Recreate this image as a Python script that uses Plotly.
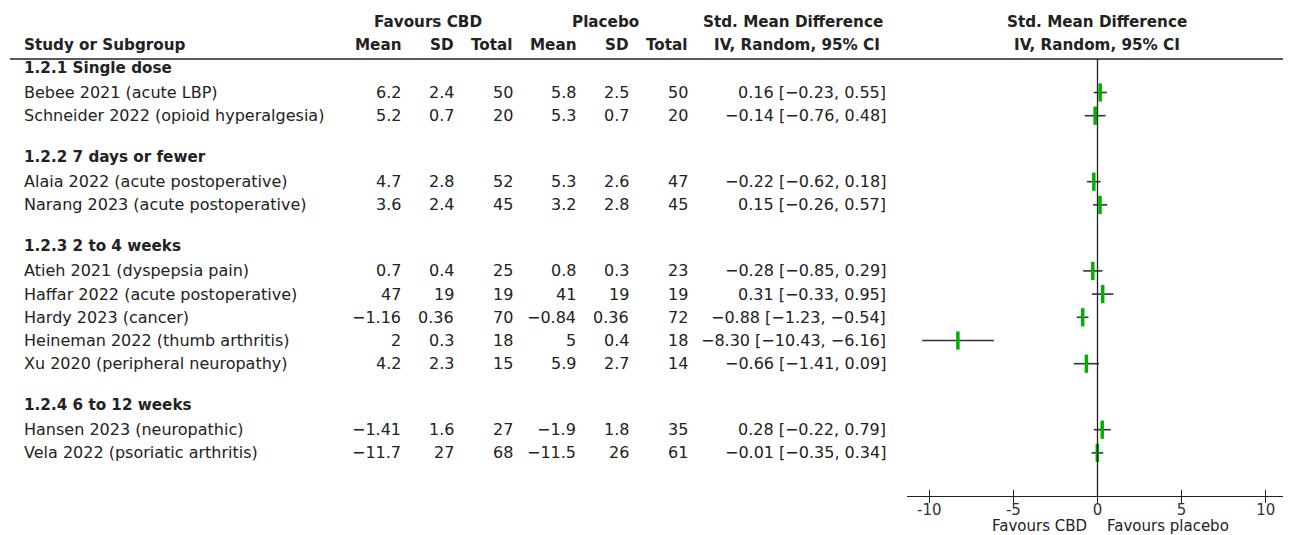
import plotly.graph_objects as go

# ---------------- data ----------------
groups = ["1.2.1 Single dose", "1.2.2 7 days or fewer", "1.2.3 2 to 4 weeks", "1.2.4 6 to 12 weeks"]
study_group = [0, 0, 1, 1, 2, 2, 2, 2, 2, 3, 3]
studies = [
    "Bebee 2021 (acute LBP)",
    "Schneider 2022 (opioid hyperalgesia)",
    "Alaia 2022 (acute postoperative)",
    "Narang 2023 (acute postoperative)",
    "Atieh 2021 (dyspepsia pain)",
    "Haffar 2022 (acute postoperative)",
    "Hardy 2023 (cancer)",
    "Heineman 2022 (thumb arthritis)",
    "Xu 2020 (peripheral neuropathy)",
    "Hansen 2023 (neuropathic)",
    "Vela 2022 (psoriatic arthritis)",
]
cbd_mean = [6.2, 5.2, 4.7, 3.6, 0.7, 47, -1.16, 2, 4.2, -1.41, -11.7]
cbd_sd = [2.4, 0.7, 2.8, 2.4, 0.4, 19, 0.36, 0.3, 2.3, 1.6, 27]
cbd_n = [50, 20, 52, 45, 25, 19, 70, 18, 15, 27, 68]
pla_mean = [5.8, 5.3, 5.3, 3.2, 0.8, 41, -0.84, 5, 5.9, -1.9, -11.5]
pla_sd = [2.5, 0.7, 2.6, 2.8, 0.3, 19, 0.36, 0.4, 2.7, 1.8, 26]
pla_n = [50, 20, 47, 45, 23, 19, 72, 18, 14, 35, 61]
smd = [0.16, -0.14, -0.22, 0.15, -0.28, 0.31, -0.88, -8.30, -0.66, 0.28, -0.01]
ci_lo = [-0.23, -0.76, -0.62, -0.26, -0.85, -0.33, -1.23, -10.43, -1.41, -0.22, -0.35]
ci_hi = [0.55, 0.48, 0.18, 0.57, 0.29, 0.95, -0.54, -6.16, 0.09, 0.79, 0.34]
tick_vals = [-10, -5, 0, 5, 10]
tick_text = ["-10", "-5", "0", "5", "10"]

# ---------------- layout helpers ----------------
PAGE_W, PAGE_H = 1291, 535
OFF = 8  # default page body margin
W, H = PAGE_W - OFF, PAGE_H - OFF
FONT = "DejaVu Sans"
TXT = "#222222"
FS = 16
FSB = 15.2


def fmt(v):
    return f"{v:g}".replace("-", "\u2212")


def fmt2(v):
    return f"{v:.2f}".replace("-", "\u2212")


# row positions (page-pixel-like y units, top = 0)
first_heading = 68.0
head_to_row = 24.5
row_step = 23.2
group_gap = 41.5
heading_y = []
row_y = []
cur = first_heading
for g in range(len(groups)):
    heading_y.append(cur)
    idx = [i for i, sg in enumerate(study_group) if sg == g]
    y = cur + head_to_row
    for k, i in enumerate(idx):
        row_y.append(y + k * row_step)
    cur = row_y[-1] + group_gap

header_line_y = 59
axis_y = 496

fig = go.Figure()

xs, ys = [], []
for lo, hi, y in zip(ci_lo, ci_hi, row_y):
    xs += [lo, hi, None]
    ys += [y, y, None]
fig.add_trace(go.Scatter(x=xs, y=ys, mode="lines", line=dict(color="#333333", width=1.6),
                         hoverinfo="skip", showlegend=False))
fig.add_trace(go.Scatter(x=smd, y=row_y, mode="markers",
                         marker=dict(symbol="line-ns", size=13,
                                     line=dict(color="#00b000", width=3.5)),
                         showlegend=False))
fig.add_trace(go.Scatter(x=[0], y=[row_y[0]], xaxis="x2", mode="markers",
                         marker=dict(opacity=0), hoverinfo="skip", showlegend=False))

ann = []


def px(x):
    return (x - OFF) / W


def add_text(x, y, text, anchor="left", bold=False, color=TXT, size=None):
    if size is None:
        size = FSB if bold else FS
    ann.append(dict(xref="paper", yref="y", x=px(x), y=y, text=f"<b>{text}</b>" if bold else text,
                    xanchor=anchor, yanchor="middle", showarrow=False,
                    font=dict(family=FONT, size=size, color=color)))


col_x = dict(cm=403, cs=456, cn=515, pm=578, ps=631, pn=690, smd=888)

hy1, hy2 = 22, 45
add_text(428, hy1, "Favours CBD", "center", True)
add_text(605, hy1, "Placebo", "center", True)
add_text(793, hy1, "Std. Mean Difference", "center", True)
add_text(1097, hy1, "Std. Mean Difference", "center", True)
add_text(22, hy2, "Study or Subgroup", "left", True)
for key, lab in [("cm", "Mean"), ("cs", "SD"), ("cn", "Total"), ("pm", "Mean"), ("ps", "SD"), ("pn", "Total")]:
    add_text(col_x[key], hy2, lab, "right", True)
add_text(797, hy2, "IV, Random, 95% CI", "center", True)
add_text(1097, hy2, "IV, Random, 95% CI", "center", True)

for g, gy in zip(groups, heading_y):
    add_text(22, gy, g, "left", True)

for i, y in enumerate(row_y):
    add_text(22, y, studies[i])
    add_text(col_x["cm"], y, fmt(cbd_mean[i]), "right")
    add_text(col_x["cs"], y, fmt(cbd_sd[i]), "right")
    add_text(col_x["cn"], y, str(cbd_n[i]), "right")
    add_text(col_x["pm"], y, fmt(pla_mean[i]), "right")
    add_text(col_x["ps"], y, fmt(pla_sd[i]), "right")
    add_text(col_x["pn"], y, str(pla_n[i]), "right")
    add_text(col_x["smd"], y, f"{fmt2(smd[i])} [{fmt2(ci_lo[i])}, {fmt2(ci_hi[i])}]", "right")

add_text(1089, 526, "Favours CBD", "right", size=15)
add_text(1105, 526, "Favours placebo", "left", size=15)

x_left_px = 907
px_per_unit = 16.82
x_min = -10 - (929.3 - x_left_px) / px_per_unit
x_max = x_min + (PAGE_W - x_left_px) / px_per_unit
axis_pos = (PAGE_H - axis_y) / H

shapes = [
    dict(type="line", xref="paper", yref="y", x0=px(10), x1=1, y0=header_line_y, y1=header_line_y,
         line=dict(color="#222222", width=1.6)),
    dict(type="line", xref="x", yref="y", x0=0, x1=0, y0=header_line_y, y1=axis_y,
         line=dict(color="#222222", width=1.3)),
]

fig.update_layout(
    width=W, height=H,
    margin=dict(l=0, r=0, t=0, b=0),
    paper_bgcolor="white", plot_bgcolor="white",
    annotations=ann, shapes=shapes,
    xaxis=dict(domain=[px(x_left_px), 1], range=[x_min, x_max], anchor="free", position=axis_pos,
               showline=True, linecolor="#222222", linewidth=1.3,
               ticks="inside", ticklen=6, tickwidth=1.3, tickcolor="#222222",
               tickvals=tick_vals, ticktext=tick_text,
               tickfont=dict(family=FONT, size=15, color="#333333"),
               showgrid=False, zeroline=False, fixedrange=True),
    xaxis2=dict(overlaying="x", range=[x_min, x_max], anchor="free", position=axis_pos,
                ticks="outside", ticklen=6, tickwidth=1.3, tickcolor="#222222",
                tickvals=tick_vals, showticklabels=False, showline=False,
                showgrid=False, zeroline=False, side="bottom"),
    yaxis=dict(domain=[0, 1], range=[PAGE_H, OFF], visible=False, fixedrange=True),
    font=dict(family=FONT, size=FS, color=TXT),
)

fig.write_html("out.html")
